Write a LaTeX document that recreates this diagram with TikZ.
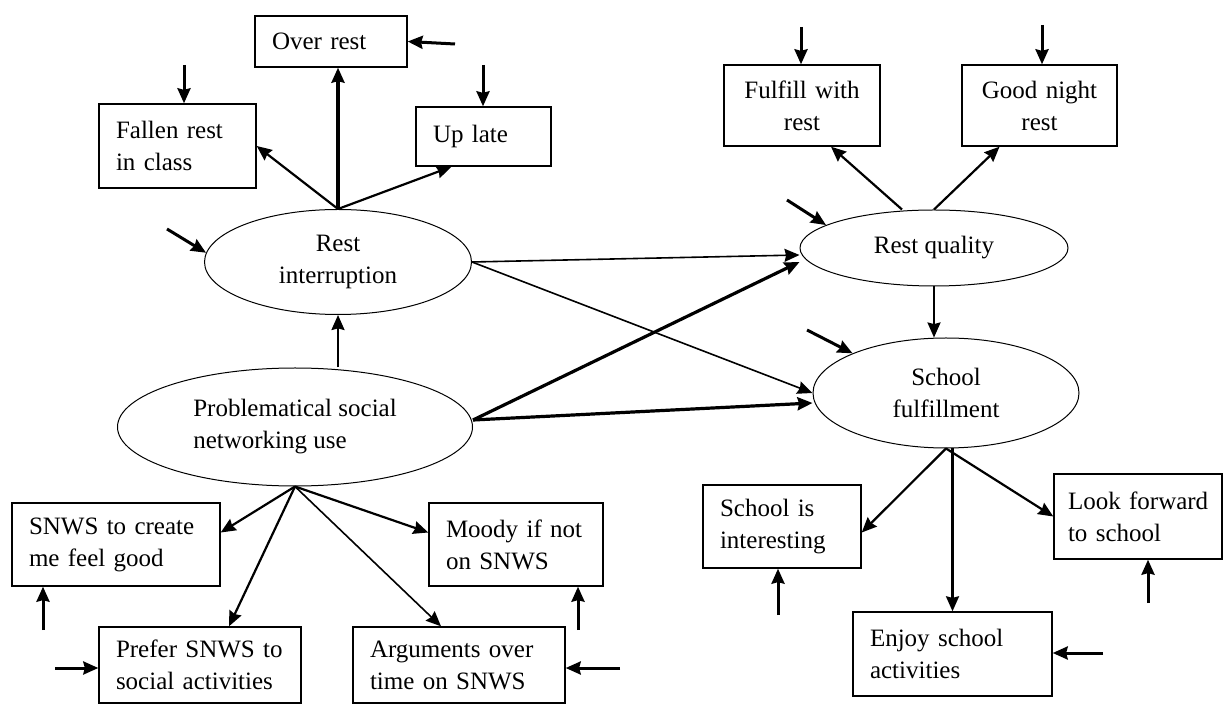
\documentclass[tikz,border=0pt]{standalone}
\usepackage{fontspec}
\setmainfont{Liberation Serif}
\usetikzlibrary{shapes.geometric,arrows.meta}
\begin{document}
\begin{tikzpicture}[x=0.5pt,y=-0.5pt,
  font=\fontsize{12.5}{16}\selectfont,
  box/.style={draw, line width=0.7pt, align=left, inner xsep=8.5pt, inner ysep=0pt},
  cbox/.style={box, align=center},
  oval/.style={draw, ellipse, line width=0.5pt, inner sep=0pt, align=center},
  effect/.style={-{Stealth[length=7.5pt,width=6.5pt,inset=0.8pt]}, line width=1.1pt},
  weak/.style={effect, line width=0.8pt},
  strong/.style={effect, line width=1.6pt},
  resid/.style={effect, line width=1.5pt}]
\useasboundingbox (0,0) rectangle (1224,704);
\node[box, text width=59pt, minimum height=25.5pt] (overrest) at (331,41.5) {Over rest};
\node[box, text width=61.5pt, minimum height=42pt] (fallen) at (177.5,146) {Fallen rest\\in class};
\node[box, text width=50.5pt, minimum height=29.5pt] (uplate) at (483.5,136.5) {Up late};
\node[cbox, text width=61pt, minimum height=40.5pt] (fulfill) at (802,105.5) {Fulfill with\\rest};
\node[cbox, text width=60.5pt, minimum height=40.5pt] (goodnight) at (1039.5,105.5) {Good night\\rest};
\node[oval, minimum width=133.5pt, minimum height=52.5pt] (ri) at (338,262) {Rest\\interruption};
\node[oval, minimum width=134pt, minimum height=38pt] (rq) at (934,248) {Rest quality};
\node[oval, minimum width=133pt, minimum height=55pt] (sf) at (946,393) {School\\fulfillment};
\node[oval, align=left, minimum width=177.5pt, minimum height=59pt] (psnu) at (295,427) {Problematical social\\networking use};
\node[box, text width=87pt, minimum height=41.5pt] (snws) at (116,544.5) {SNWS to create\\me feel good};
\node[box, text width=70pt, minimum height=41.5pt] (moody) at (516,544.5) {Moody if not\\on SNWS};
\node[box, text width=84pt, minimum height=38pt] (prefer) at (200,665) {Prefer SNWS to\\social activities};
\node[box, text width=89pt, minimum height=38pt] (args) at (459,665) {Arguments over\\time on SNWS};
\node[box, text width=62pt, minimum height=41.5pt] (interesting) at (782,526.5) {School is\\interesting};
\node[box, inner xsep=7pt, text width=70pt, minimum height=42.5pt] (lookfwd) at (1138,516.5) {\mbox{Look forward}\\to school};
\node[box, text width=82.5pt, minimum height=42pt] (enjoy) at (952.5,654) {Enjoy school\\activities};
\coordinate (eoverrest) at (455,44);
\coordinate (efallen) at (184,65);
\coordinate (euplate) at (483,65);
\coordinate (eri) at (167,229);
\coordinate (erq) at (787,200);
\coordinate (esf) at (807,330);
\coordinate (efulfill) at (801,27);
\coordinate (egoodnight) at (1042,25);
\coordinate (esnws) at (43,630);
\coordinate (eprefer) at (55,668);
\coordinate (eargs) at (620,668);
\coordinate (emoody) at (578,630);
\coordinate (einteresting) at (778,615);
\coordinate (elookfwd) at (1148,603);
\coordinate (eenjoy) at (1103,653);
\draw[strong] (ri.north) -- (ri.north |- overrest.south);
\draw[effect] (ri.north) -- (fallen.east);
\draw[effect] (ri.north) -- ([xshift=-16pt]uplate.south);
\draw[weak] (ri.east) -- ([yshift=-3.5pt]rq.west);
\draw[weak] (ri.east) -- (sf.west);
\draw[effect] (ri.south |- psnu.north) -- (ri.south);
\draw[strong] ([yshift=3.5pt]psnu.east) -- ([yshift=-7pt]rq.west);
\draw[strong] ([yshift=3.5pt]psnu.east) -- ([yshift=-5pt]sf.west);
\draw[effect] ([xshift=-16pt]rq.north) -- ([xshift=14.5pt]fulfill.south);
\draw[effect] (rq.north) -- ([xshift=-20pt]goodnight.south);
\draw[effect] (rq.south) -- (rq.south |- sf.north);
\draw[effect] (sf.south) -- ([yshift=-3pt]interesting.east);
\draw[effect] (enjoy.north |- sf.south) -- (enjoy.north);
\draw[effect] (sf.south) -- (lookfwd.west);
\draw[effect] (psnu.south) -- ([yshift=6pt]snws.east);
\draw[effect] (psnu.south) -- ([xshift=14.5pt]prefer.north);
\draw[weak] (psnu.south) -- ([xshift=-9pt]args.north);
\draw[effect] (psnu.south) -- ([yshift=6pt]moody.west);
\draw[resid] (eoverrest) -- (overrest.east);
\draw[resid] (efallen) -- (efallen |- fallen.north);
\draw[resid] (euplate) -- (euplate |- uplate.north);
\draw[resid] (eri) -- (ri.176);
\draw[resid] (erq) -- (rq.168);
\draw[resid] (esf) -- (sf.157);
\draw[resid] (efulfill) -- (efulfill |- fulfill.north);
\draw[resid] (egoodnight) -- (egoodnight |- goodnight.north);
\draw[resid] (esnws) -- (esnws |- snws.south);
\draw[resid] (eprefer) -- (eprefer -| prefer.west);
\draw[resid] (eargs) -- (eargs -| args.east);
\draw[resid] (emoody) -- (emoody |- moody.south);
\draw[resid] (einteresting) -- (einteresting |- interesting.south);
\draw[resid] (elookfwd) -- (elookfwd |- lookfwd.south);
\draw[resid] (eenjoy) -- (eenjoy -| enjoy.east);
\end{tikzpicture}
\end{document}
